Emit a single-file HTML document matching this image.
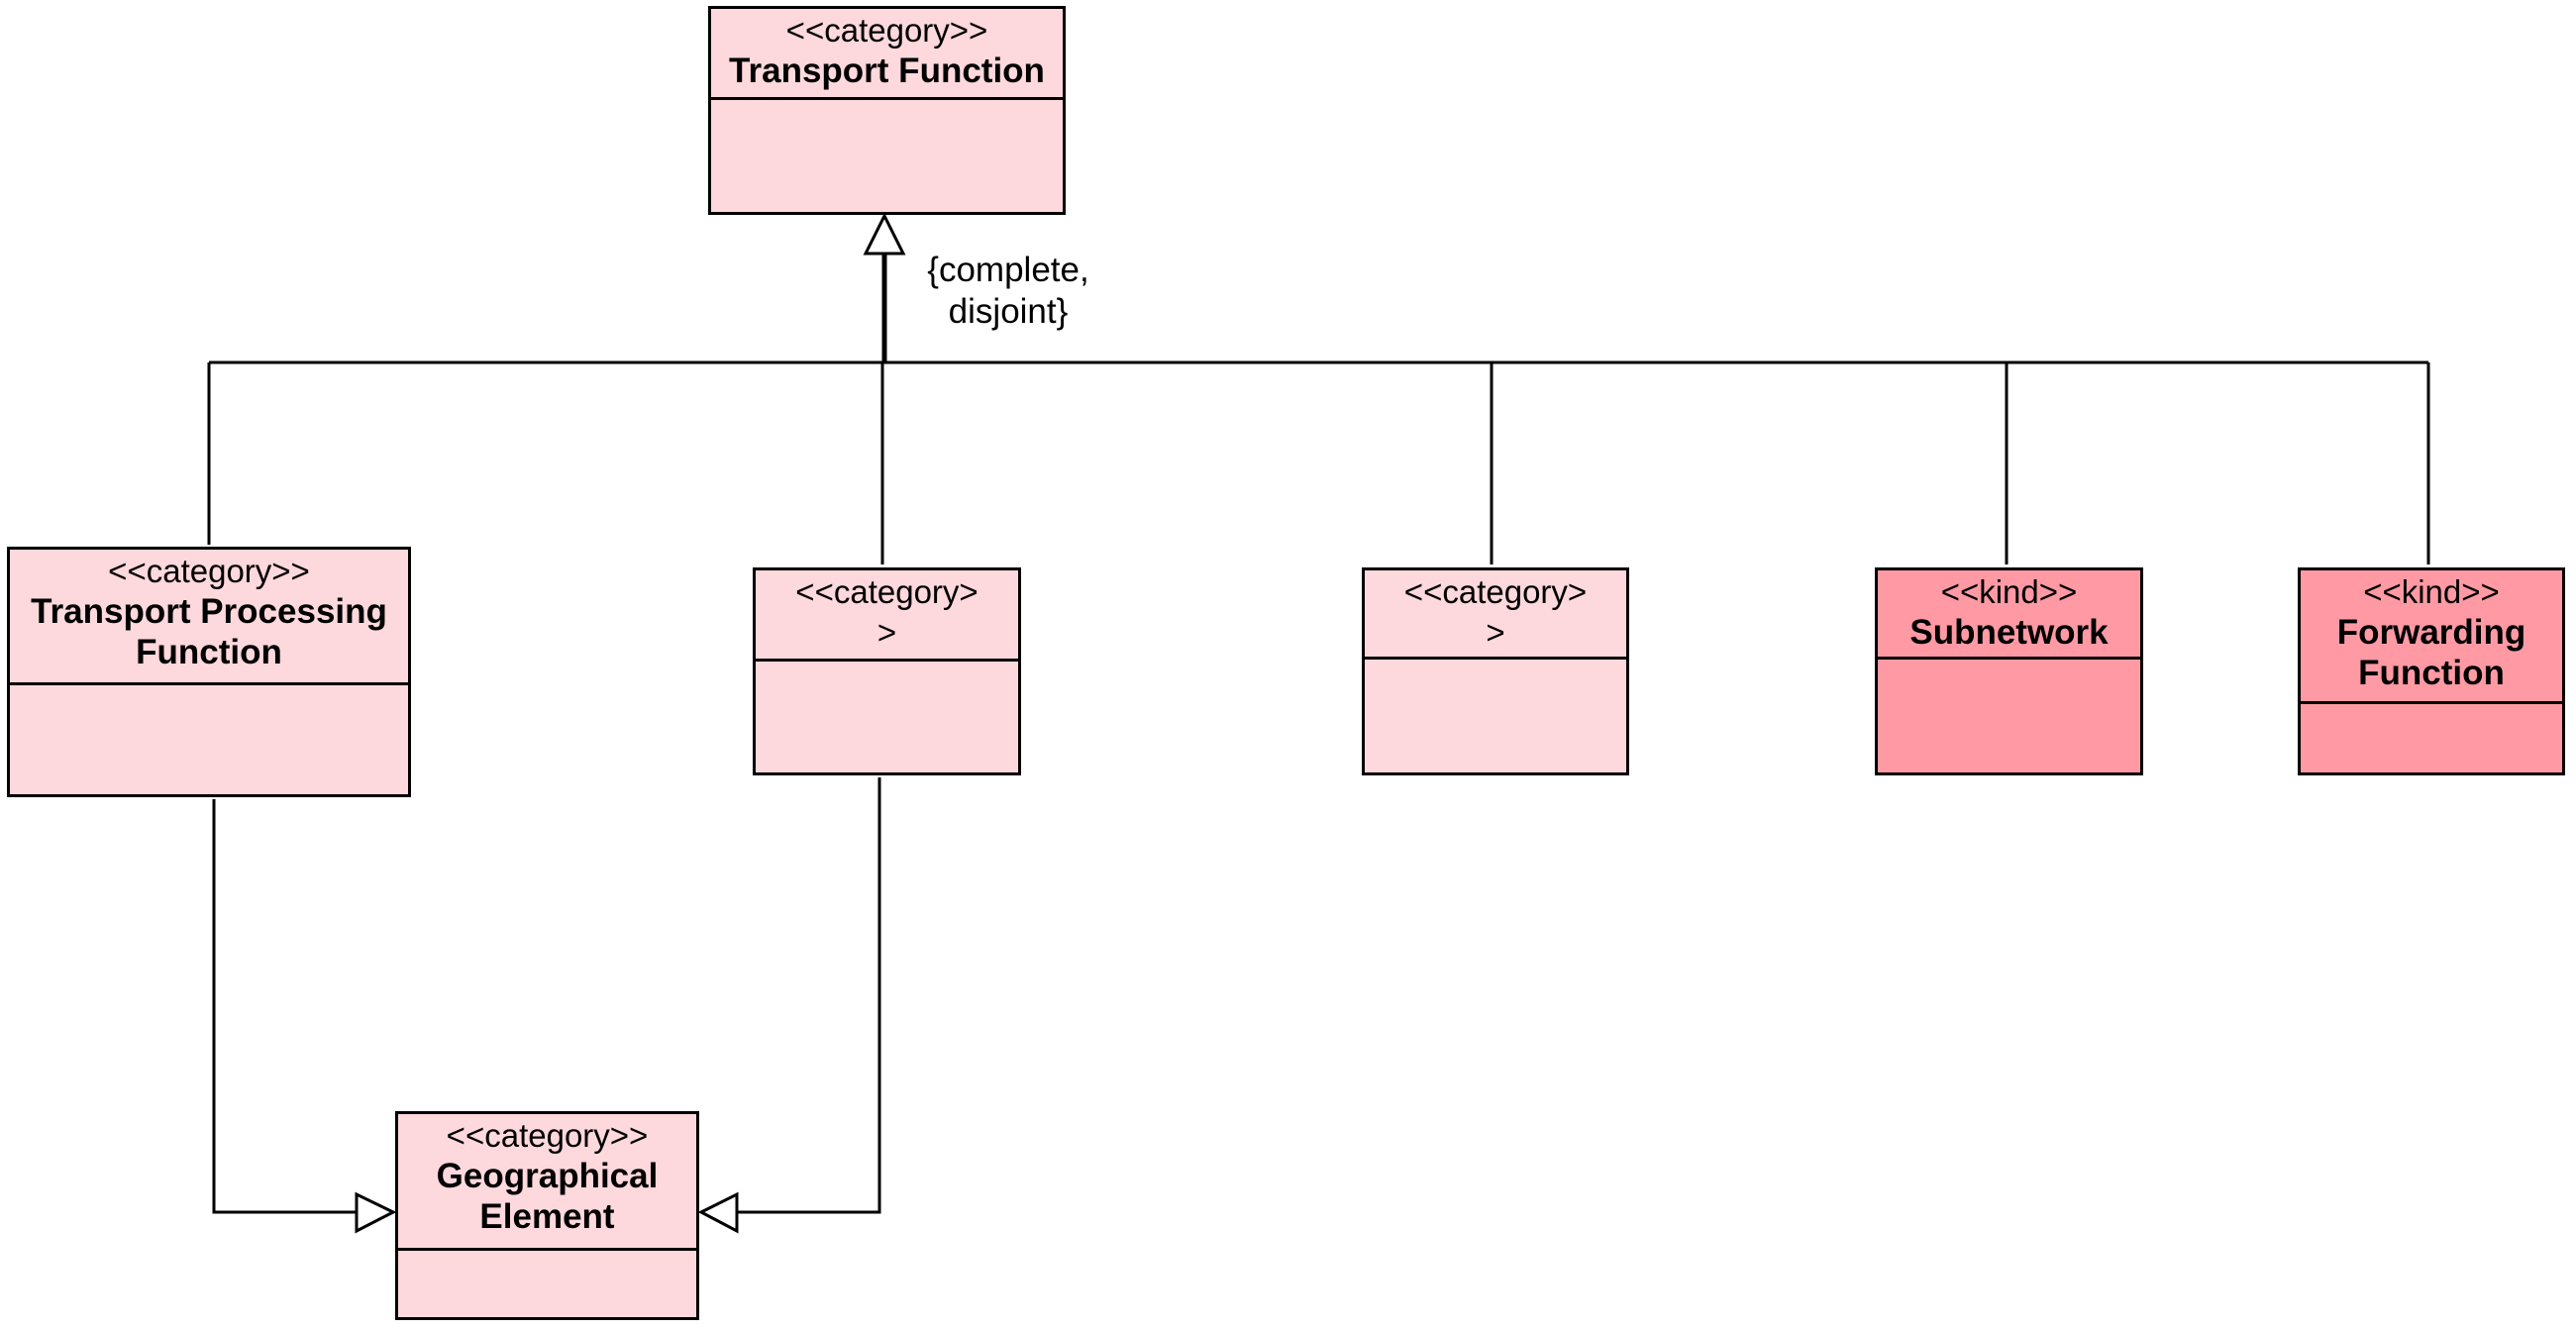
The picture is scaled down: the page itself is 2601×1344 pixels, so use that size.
<!DOCTYPE html>
<html><head><meta charset="utf-8"><style>
body{margin:0;width:2601px;height:1344px;background:#fff;position:relative;overflow:hidden;font-family:"Liberation Sans",sans-serif;}
.b{position:absolute;border:3px solid #000;box-sizing:border-box;background:#FDD8DC;}
.k{background:#FF9AA4;}
.h{position:absolute;left:0;right:0;top:0;border-bottom:3px solid #000;box-sizing:border-box;text-align:center;font-size:33px;line-height:41px;padding-top:1px;white-space:nowrap;}
.h b{font-weight:bold;font-size:35px;}
svg{position:absolute;left:0;top:0;}
.t{position:absolute;font-size:35px;line-height:42px;text-align:center;}
</style></head><body>
<svg width="2601" height="1344">
<g stroke="#000" stroke-width="3" fill="none">
<line x1="211" y1="366" x2="2452" y2="366"/>
<line x1="211" y1="366" x2="211" y2="550"/>
<line x1="891" y1="366" x2="891" y2="570"/>
<line x1="1506" y1="366" x2="1506" y2="570"/>
<line x1="2026" y1="366" x2="2026" y2="570"/>
<line x1="2452" y1="366" x2="2452" y2="570"/>
<line x1="893" y1="256" x2="893" y2="366" stroke-width="5"/>
<polygon points="893,218 874,256 912,256" fill="#fff"/>
<polyline points="216,807 216,1224 360,1224"/>
<polygon points="397,1224 360,1206 360,1243" fill="#fff"/>
<polyline points="888,785 888,1224 744,1224"/>
<polygon points="708,1224 744,1206 744,1243" fill="#fff"/>
</g>
</svg>
<div class="b" style="left:715px;top:6px;width:361px;height:211px"><div class="h" style="height:92px">&lt;&lt;category&gt;&gt;<br><b>Transport Function</b></div></div>
<div class="t" style="left:918px;top:252px;width:200px">{complete,<br>disjoint}</div>
<div class="b" style="left:7px;top:552px;width:408px;height:253px"><div class="h" style="height:137px">&lt;&lt;category&gt;&gt;<br><b>Transport Processing<br>Function</b></div></div>
<div class="b" style="left:760px;top:573px;width:271px;height:210px"><div class="h" style="height:92px">&lt;&lt;category&gt;<br>&gt;</div></div>
<div class="b" style="left:1375px;top:573px;width:270px;height:210px"><div class="h" style="height:90px">&lt;&lt;category&gt;<br>&gt;</div></div>
<div class="b k" style="left:1893px;top:573px;width:271px;height:210px"><div class="h" style="height:90px">&lt;&lt;kind&gt;&gt;<br><b>Subnetwork</b></div></div>
<div class="b k" style="left:2320px;top:573px;width:270px;height:210px"><div class="h" style="height:135px">&lt;&lt;kind&gt;&gt;<br><b>Forwarding<br>Function</b></div></div>
<div class="b" style="left:399px;top:1122px;width:307px;height:211px"><div class="h" style="height:138px">&lt;&lt;category&gt;&gt;<br><b>Geographical<br>Element</b></div></div>
</body></html>
